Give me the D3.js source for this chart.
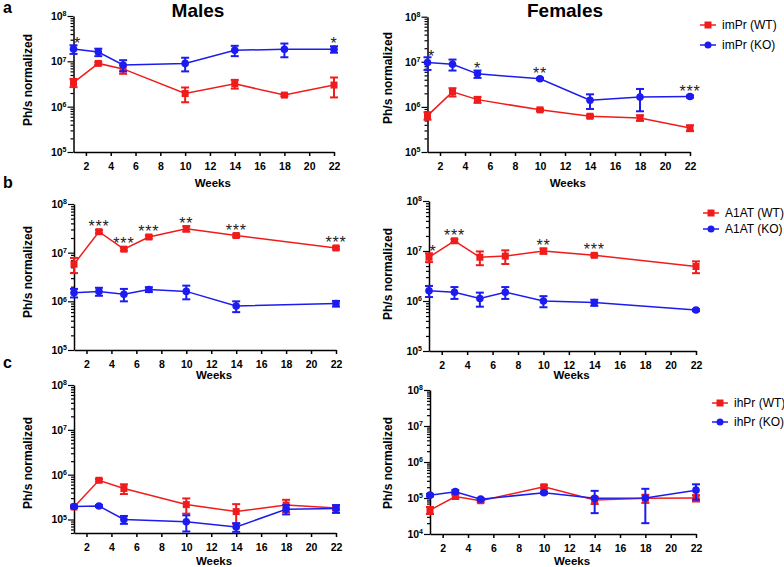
<!DOCTYPE html>
<html>
  <head>
    <meta charset="utf-8">
    <title>Ph/s normalized, males vs females</title>
    <script src="https://d3js.org/d3.v7.min.js"></script>
    <style>
      body { margin: 0; background: #fff; }
      svg { font-family: "Liberation Sans", Arial, sans-serif; }
    </style>
  </head>
  <body>
    <svg id="chart" width="784" height="567"></svg>
    <script>
      // weeks sampled per row
      const weeksA = [1, 3, 5, 10, 14, 18, 22];
      const weeksB = [1, 3, 5, 7, 10, 14, 22];
      const weeksC = [1, 3, 5, 10, 14, 18, 22];
      const xTicks = [2, 4, 6, 8, 10, 12, 14, 16, 18, 20, 22];
      const reporters = ["imPr", "A1AT", "ihPr"];
      // [mean, sem] per week
      const maleA_WT = [[3.4e6, 0.7e6], [9.0e6, 0.6e6], [6.8e6, 1.5e6], [1.95e6, 0.7e6], [3.2e6, 0.7e6], [1.8e6, 0.1e6], [3.0e6, 1.4e6]];
      const maleA_KO = [[1.86e7, 0.4e7], [1.6e7, 0.3e7], [8.3e6, 2.3e6], [9.0e6, 3.0e6], [1.75e7, 0.45e7], [1.85e7, 0.62e7], [1.85e7, 0.3e7]];
      const femaleA_WT = [[6.4e5, 1.2e5], [2.15e6, 0.45e6], [1.45e6, 0.22e6], [8.6e5, 0.5e5], [6.2e5, 0.4e5], [5.7e5, 0.8e5], [3.4e5, 0.5e5]];
      const femaleA_KO = [[9.6e6, 3.0e6], [8.8e6, 2.4e6], [5.4e6, 1.0e6], [4.2e6, 0.2e6], [1.4e6, 0.5e6], [1.65e6, 0.85e6], [1.7e6, 0.1e6]];
      const maleB_WT = [[5.8e6, 2.0e6], [2.7e7, 0.2e7], [1.18e7, 0.08e7], [2.1e7, 0.15e7], [3.1e7, 0.4e7], [2.25e7, 0.15e7], [1.25e7, 0.08e7]];
      const maleB_KO = [[1.5e6, 0.3e6], [1.6e6, 0.3e6], [1.4e6, 0.4e6], [1.75e6, 0.2e6], [1.6e6, 0.5e6], [8.0e5, 2.0e5], [9.0e5, 1.2e5]];
      const femaleB_WT = [[7.5e6, 1.5e6], [1.6e7, 0.12e7], [7.5e6, 2.3e6], [7.9e6, 2.4e6], [1.0e7, 0.12e7], [8.2e6, 0.4e6], [4.9e6, 1.3e6]];
      const femaleB_KO = [[1.6e6, 0.4e6], [1.5e6, 0.4e6], [1.12e6, 0.35e6], [1.5e6, 0.4e6], [1.0e6, 0.25e6], [9.3e5, 1.3e5], [6.6e5, 0.3e5]];
      const maleC_WT = [[1.9e5, 0.1e5], [7.5e5, 0.5e5], [4.9e5, 1.2e5], [2.15e5, 0.8e5], [1.5e5, 0.7e5], [2.1e5, 0.65e5], [1.8e5, 0.2e5]];
      const maleC_KO = [[1.95e5, 0.1e5], [2.0e5, 0.1e5], [1.0e5, 0.2e5], [8.9e4, 3.5e4], [6.8e4, 1.5e4], [1.7e5, 0.4e5], [1.75e5, 0.35e5]];
      const femaleC_WT = [[4.6e4, 1.0e4], [1.1e5, 0.15e5], [8.4e4, 0.8e4], [2.05e5, 0.2e5], [8.8e4, 2.0e4], [9.8e4, 2.5e4], [1.0e5, 2.0e4]];
      const femaleC_KO = [[1.2e5, 0.1e5], [1.5e5, 0.15e5], [9.3e4, 0.6e4], [1.4e5, 0.1e5], [9.8e4, 6.0e4], [1.0e5, 8.0e4], [1.65e5, 0.75e5]];
      // significance marks: [week, stars]
      const starsMaleA = [[1, "*"], [22, "*"]];
      const starsFemaleA = [[1, "*"], [5, "*"], [10, "**"], [22, "***"]];
      const starsMaleB = [[3, "***"], [5, "***"], [7, "***"], [10, "**"], [14, "***"], [22, "***"]];
      const starsFemaleB = [[1, "*"], [3, "***"], [10, "**"], [14, "***"]];

      const RED = "#f01c1c", BLUE = "#1c1cf0";
      const svg = d3.select("#chart");

      // panel layout
      const panels = [
        {x0: 73.5, x1: 334, yTop: 16, yBot: 152, lo: 1e5, weeks: weeksA, wt: maleA_WT, ko: maleA_KO, stars: starsMaleA, starOn: "ko", ylabX: 28, ylabY: 80, wkY: 183},
        {x0: 427.5, x1: 690, yTop: 16.7, yBot: 152, lo: 1e5, weeks: weeksA, wt: femaleA_WT, ko: femaleA_KO, stars: starsFemaleA, starOn: "ko", ylabX: 388, ylabY: 78, wkY: 183},
        {x0: 74, x1: 336, yTop: 204, yBot: 350, lo: 1e5, weeks: weeksB, wt: maleB_WT, ko: maleB_KO, stars: starsMaleB, starOn: "wt", ylabX: 28, ylabY: 272, wkY: 375},
        {x0: 429, x1: 696, yTop: 201, yBot: 351, lo: 1e5, weeks: weeksB, wt: femaleB_WT, ko: femaleB_KO, stars: starsFemaleB, starOn: "wt", ylabX: 388, ylabY: 274, wkY: 375},
        {x0: 74, x1: 336, yTop: 385, yBot: 533, lo: 5e4, weeks: weeksC, wt: maleC_WT, ko: maleC_KO, stars: [], starOn: "wt", ylabX: 28, ylabY: 463, wkY: 561},
        {x0: 430, x1: 696, yTop: 390, yBot: 534, lo: 1e4, weeks: weeksC, wt: femaleC_WT, ko: femaleC_KO, stars: [], starOn: "wt", ylabX: 388, ylabY: 463, wkY: 561}
      ];

      panels.forEach(function(p) {
        const x = d3.scaleLinear().domain([1, 22]).range([p.x0, p.x1]);
        const y = d3.scaleLog().domain([p.lo, 1e8]).range([p.yBot, p.yTop]);
        const g = svg.append("g");

        // y axis: minor + major ticks
        const majors = [], minors = [];
        for (let e = 4; e <= 8; e++) {
          if (Math.pow(10, e) >= p.lo) majors.push(Math.pow(10, e));
          for (let m = 2; m <= 9; m++) {
            const v = m * Math.pow(10, e);
            if (v >= p.lo && v < 1e8) minors.push(v);
          }
        }
        g.append("g")
          .attr("transform", "translate(" + p.x0 + ",0)")
          .call(d3.axisLeft(y).tickValues(minors).tickSize(3).tickSizeOuter(0).tickFormat(""))
          .call(function(a) { a.select(".domain").remove(); });
        const yAx = g.append("g")
          .attr("transform", "translate(" + p.x0 + ",0)")
          .call(d3.axisLeft(y).tickValues(majors).tickSize(6).tickSizeOuter(0));
        yAx.selectAll("line, path").attr("stroke", "#000").attr("stroke-width", 1.5);
        yAx.selectAll("text")
          .attr("font-size", 10.5).attr("font-weight", "bold").attr("fill", "#000").attr("x", -7)
          .each(function(d) {
            const t = d3.select(this);
            t.text("10");
            t.append("tspan").attr("dy", "-0.5em").attr("font-size", 7).text(Math.round(Math.log10(d)));
          });
        g.selectAll(".tick line").attr("stroke", "#000").attr("stroke-width", 1.2);

        // x axis
        const xAx = g.append("g")
          .attr("transform", "translate(0," + p.yBot + ")")
          .call(d3.axisBottom(x).tickValues(xTicks).tickSize(4).tickSizeOuter(0));
        xAx.selectAll("line, path").attr("stroke", "#000").attr("stroke-width", 1.5);
        xAx.selectAll("text").attr("font-size", 10.5).attr("font-weight", "bold").attr("fill", "#000").attr("dy", "1em");

        // axis titles
        g.append("text")
          .attr("transform", "translate(" + p.ylabX + "," + p.ylabY + ") rotate(-90)")
          .attr("text-anchor", "middle").attr("dy", "0.35em")
          .attr("font-size", 12).attr("font-weight", "bold")
          .text("Ph/s normalized");
        g.append("text")
          .attr("x", (p.x0 + p.x1) / 2 + 9).attr("y", p.wkY).attr("dy", "0.35em")
          .attr("text-anchor", "middle").attr("font-size", 11.5).attr("font-weight", "bold")
          .text("Weeks");

        // series
        [["wt", RED], ["ko", BLUE]].forEach(function(s) {
          const rows = p[s[0]].map(function(v, i) { return {w: p.weeks[i], m: v[0], e: v[1]}; });
          const col = s[1];
          const lo = function(d) { return y(Math.max(p.lo, d.m - d.e)); };
          const hi = function(d) { return y(d.m + d.e); };
          g.append("path").datum(rows)
            .attr("fill", "none").attr("stroke", col).attr("stroke-width", 1.5)
            .attr("d", d3.line().x(function(d) { return x(d.w); }).y(function(d) { return y(d.m); }));
          const eb = g.append("g").attr("stroke", col).attr("stroke-width", 2);
          eb.selectAll(".v").data(rows).enter().append("line")
            .attr("x1", function(d) { return x(d.w); }).attr("x2", function(d) { return x(d.w); })
            .attr("y1", lo).attr("y2", hi);
          eb.selectAll(".t").data(rows).enter().append("line")
            .attr("x1", function(d) { return x(d.w) - 4; }).attr("x2", function(d) { return x(d.w) + 4; })
            .attr("y1", hi).attr("y2", hi);
          eb.selectAll(".b").data(rows).enter().append("line")
            .attr("x1", function(d) { return x(d.w) - 4; }).attr("x2", function(d) { return x(d.w) + 4; })
            .attr("y1", lo).attr("y2", lo);
          if (s[0] === "wt") {
            g.selectAll(null).data(rows).enter().append("rect")
              .attr("x", function(d) { return x(d.w) - 3.5; }).attr("y", function(d) { return y(d.m) - 3.5; })
              .attr("width", 7).attr("height", 7).attr("fill", col);
          } else {
            g.selectAll(null).data(rows).enter().append("circle")
              .attr("cx", function(d) { return x(d.w); }).attr("cy", function(d) { return y(d.m); })
              .attr("r", 3.8).attr("fill", col);
          }
        });

        // significance stars above the chosen series
        p.stars.forEach(function(st) {
          const i = p.weeks.indexOf(st[0]);
          const v = p[p.starOn][i];
          g.append("text")
            .attr("x", x(st[0]) + (st[0] === 1 ? 4 : 0))
            .attr("y", Math.min(y(v[0]) - 5, y(v[0] + v[1])) + 5)
            .attr("text-anchor", "middle").attr("font-size", 16).attr("letter-spacing", 0.8)
            .attr("fill", "#222")
            .text(st[1]);
        });
      });

      // legends
      const legends = [{x: 700, y: [25, 45]}, {x: 703, y: [213, 229]}, {x: 712, y: [403, 422]}];
      legends.forEach(function(l, r) {
        [["WT", RED], ["KO", BLUE]].forEach(function(s, k) {
          const lg = svg.append("g").attr("transform", "translate(" + l.x + "," + l.y[k] + ")");
          lg.append("line").attr("x1", 0).attr("x2", 16).attr("stroke", s[1]).attr("stroke-width", 1.5);
          if (k === 0) lg.append("rect").attr("x", 4.5).attr("y", -3.5).attr("width", 7).attr("height", 7).attr("fill", s[1]);
          else lg.append("circle").attr("cx", 8).attr("r", 3.5).attr("fill", s[1]);
          lg.append("text").attr("x", 22).attr("dy", "0.35em").attr("font-size", 12)
            .text(reporters[r] + " (" + s[0] + ")");
        });
      });

      // column titles and panel letters
      svg.append("text").attr("x", 198).attr("y", 17).attr("text-anchor", "middle")
        .attr("font-size", 19).attr("font-weight", "bold").text("Males");
      svg.append("text").attr("x", 565).attr("y", 17).attr("text-anchor", "middle")
        .attr("font-size", 19).attr("font-weight", "bold").text("Females");
      [["a", 13], ["b", 188], ["c", 368]].forEach(function(t) {
        svg.append("text").attr("x", 3).attr("y", t[1])
          .attr("font-size", 16).attr("font-weight", "bold").text(t[0]);
      });
    </script>
  </body>
</html>
